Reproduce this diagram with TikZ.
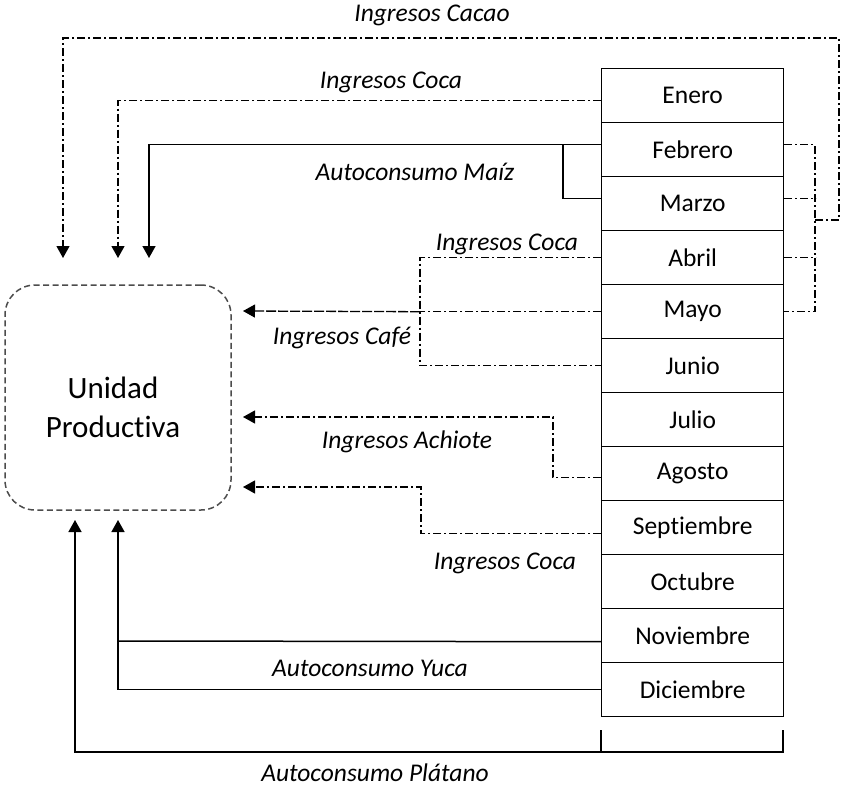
\documentclass[tikz,border=0pt]{standalone}
\usepackage{fontspec}
\setmainfont{Carlito}[Ligatures={NoCommon}]
\usetikzlibrary{arrows.meta}
\begin{document}
\begin{tikzpicture}[x=1pt,y=-1pt,
  month/.style={draw, line width=1.4pt, minimum width=182pt, minimum height=54pt,
    inner sep=0pt, anchor=north west, font=\fontsize{25.5}{30}\selectfont},
  lab/.style={font=\fontsize{25.5}{30}\selectfont\itshape, inner sep=0pt},
  dd/.style={line width=1.2pt, dash pattern=on 8pt off 3pt on 2pt off 3pt},
  ld/.style={line width=1.3pt, dash pattern=on 10pt off 2pt},
  sl/.style={line width=1.5pt},
  tip/.style={-{Triangle[width=13pt,length=12pt]}}
]
\useasboundingbox (0,0) rectangle (841,788);

% unit box
\node[draw=black!70, line width=1.5pt, dash pattern=on 6pt off 3.5pt,
      rounded corners=30pt, minimum width=226pt, minimum height=225pt]
      (up) at (118,397.5) {};
\node[align=center, font=\fontsize{31}{39}\selectfont, inner sep=0pt]
      (uptxt) at (113,407) {Unidad\\Produc\kern0pt tiva};

% months
\foreach \n [count=\i] in {Enero,Febrero,Marzo,Abril,Mayo,Junio,Julio,Agosto,Septiembre,Octubre,Noviembre,Diciembre}
  \node[month] (m\i) at (601,{68+54*(\i-1)}) {\n};

% arrow tip coordinates
\coordinate (t1) at (63,258);
\coordinate (t2) at (118,258);
\coordinate (t3) at (149,258);
\coordinate (t4) at (243,311);
\coordinate (t5) at (243,417);
\coordinate (t6) at (243,487);
\coordinate (t7) at (75,520);
\coordinate (t8) at (118,520);

% right bracket Feb-May and cacao
\coordinate (bx) at (815,0);
\coordinate (cc) at (815,220);
\draw[dd] ([yshift=5pt]m2.east) -| (bx |- m5.east) -- (m5.east);
\draw[dd] ([yshift=5pt]m3.east) -- ++(32,0);
\draw[dd] (m4.east) -- ++(32,0);
\draw[dd,tip] (cc) -- ++(24,0) |- (63,38) -- (t1);

% Ingresos Coca (Enero)
\draw[dd,tip] ([yshift=-5pt]m1.west) -| (t2);

% Autoconsumo Maiz
\draw[sl,tip] ([yshift=5pt]m2.west) -| (t3);
\draw[sl] ([yshift=5pt]m3.west) -| (563,144);

% Ingresos Coca (Abril-Junio) / Cafe (Mayo)
\coordinate (jx) at (420,0);
\draw[dd] (m4.west) -| (jx |- m6.west) -- (m6.west);
\draw[dd] (m5.west) -- (jx |- m5.west);
\draw[ld,tip] (jx |- m5.west) -- (t4);

% Ingresos Achiote (Agosto)
\draw[dd,tip] ([yshift=-4pt]m8.west) -| (553,417) -- (t5);

% Ingresos Coca (Septiembre)
\draw[dd,tip] ([yshift=-6pt]m9.west) -| (421,487) -- (t6);

% Autoconsumo Yuca
\draw[sl] ([yshift=-6pt]m11.west) -- (118,641);
\draw[sl,tip] (m12.west) -| (t8);

% Autoconsumo Platano
\coordinate (bl) at (601,730);
\coordinate (br) at (783,730);
\draw[sl,tip] (br) -- ++(0,22) -| (t7);
\draw[sl] (bl) -- ++(0,22);

% labels
\node[lab] (l1) at (432,15) {Ingresos Cacao};
\node[lab] (l2) at (391,82) {Ingresos Coca};
\node[lab] (l3) at (415,172) {Autoconsumo Maíz};
\node[lab] (l4) at (507,244) {Ingresos Coca};
\node[lab] (l5) at (342,338) {Ingresos Café};
\node[lab] (l6) at (407,442) {Ingresos Achiote};
\node[lab] (l7) at (505,563) {Ingresos Coca};
\node[lab] (l8) at (370,668) {Autoconsumo Yuca};
\node[lab] (l9) at (375,773) {Autoconsumo Plátano};
\end{tikzpicture}
\end{document}
